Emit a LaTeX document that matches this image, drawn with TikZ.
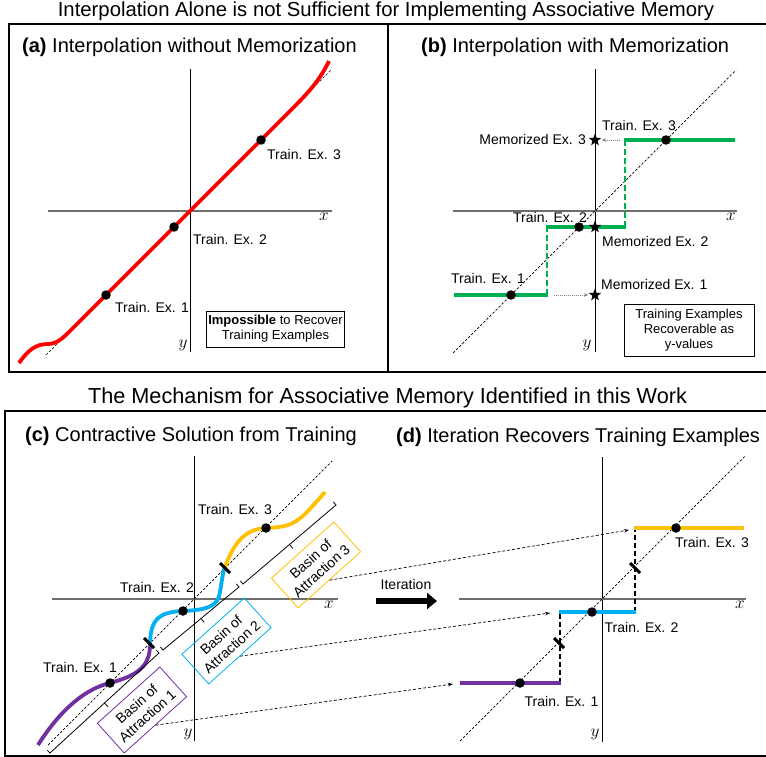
\documentclass[tikz,border=0pt]{standalone}
\usepackage{fontspec}
\setmainfont{Liberation Sans}
\usetikzlibrary{arrows.meta,shapes.geometric}
\definecolor{myred}{RGB}{255,0,0}
\definecolor{mygreen}{RGB}{0,176,80}
\definecolor{mypurple}{RGB}{112,48,160}
\definecolor{myblue}{RGB}{0,176,240}
\definecolor{myyellow}{RGB}{255,192,0}
\definecolor{axgray}{RGB}{110,110,110}
\begin{document}
\begin{tikzpicture}[x=1pt,y=-1pt,
  lab/.style={font=\fontsize{14}{16}\selectfont, inner sep=0pt},
  ttl/.style={font=\fontsize{20}{24}\selectfont, inner sep=0pt, anchor=base west},
  big/.style={inner sep=0pt, anchor=base},
  axlab/.style={font=\fontsize{17}{17}\selectfont, inner sep=0pt},
  blackdot/.style={circle, fill=black, inner sep=0pt, minimum size=9.5pt},
  memstar/.style={star, star points=5, star point ratio=2.4, fill=black, inner sep=0pt, minimum size=13pt},
  yaxisline/.style={line width=1pt},
  xaxisline/.style={line width=1.4pt, draw=axgray},
  diagline/.style={line width=0.7pt, dash pattern=on 2.5pt off 1.8pt},
  outerframe/.style={line width=2.5pt},
  thickcurve/.style={line width=3.8pt},
  stepdash/.style={line width=2.5pt, dash pattern=on 6pt off 3pt},
  tickmark/.style={line width=3pt},
  brk/.style={line width=0.8pt},
  conn/.style={line width=0.7pt, dash pattern=on 3pt off 2pt, -{Stealth[length=5pt,width=3.5pt]}},
  dotarr/.style={line width=0.8pt, draw=gray, dash pattern=on 1pt off 1pt, -{Stealth[length=4pt,width=3.5pt]}},
  infobox/.style={draw, line width=0.8pt, align=center, font=\fontsize{13}{15}\selectfont, inner sep=2pt},
  basin/.style={draw, line width=0.8pt, align=center, font=\fontsize{14}{16}\selectfont, rotate=42, minimum width=84pt, minimum height=40pt, inner sep=2pt},
]
\useasboundingbox (0,0) rectangle (766,757);

% ---------- titles and frames ----------
\node[big, font=\fontsize{20.3}{24}\selectfont] (t1) at (386,17) {Interpolation Alone is not Sufficient for Implementing Associative Memory};
\node[big, font=\fontsize{21.7}{24}\selectfont] (t2) at (387.5,403) {The Mechanism for Associative Memory Identified in this Work};
\draw[outerframe] (9,24) rectangle (780,372);
\draw[line width=1.3pt] (388,24) -- (388,372);
\draw[outerframe] (5,411) rectangle (780,756);

\node[ttl] (ta) at (22,53) {\textbf{(a)} Interpolation without Memorization};
\node[ttl] (tb) at (421,53) {\textbf{(b)} Interpolation with Memorization};
\node[ttl] (tc) at (25,441) {\textbf{(c)} Contractive Solution from Training};
\node[ttl] (td) at (396,442) {\textbf{(d)} Iteration Recovers Training Examples};

% ---------- panel (a) ----------
\draw[yaxisline] (190,69) -- (190,352);
\draw[xaxisline] (48,211) -- (332,211);
\node[axlab] (ax) at (324,217) {$x$};
\node[axlab] (ay) at (183,345) {$y$};
\draw[diagline] (46,355) -- (331,70);
\draw[thickcurve, myred] (19,363) .. controls (28,350) and (36,344) .. (48,344)
  .. controls (56,344) and (62,339) .. (70,331) -- (292,109)
  .. controls (308,93) and (320,80) .. (329,61);
\node[blackdot] (a1) at (106,295) {};
\node[blackdot] (a2) at (174,227) {};
\node[blackdot] (a3) at (261,140) {};
\node[lab] (la1) at (152,307) {Train. Ex. 1};
\node[lab] (la2) at (230,239) {Train. Ex. 2};
\node[lab] (la3) at (304,154) {Train. Ex. 3};
\node[infobox, minimum width=137pt, minimum height=36pt] (boxa) at (275.5,329) {\textbf{Impossible} to Recover\\Training Examples};

% ---------- panel (b) ----------
\draw[yaxisline] (595,69) -- (595,352);
\draw[xaxisline] (453,211) -- (737,211);
\node[axlab] (bx) at (731,217) {$x$};
\node[axlab] (by) at (587,345) {$y$};
\draw[diagline] (453,353) -- (736,70);
\draw[stepdash, mygreen] (547,295) -- (547,227);
\draw[stepdash, mygreen] (625,227) -- (625,140);
\draw[line width=3.3pt, mygreen] (454,295) -- (548,295);
\draw[line width=3.3pt, mygreen] (546,227) -- (626,227);
\draw[line width=3.3pt, mygreen] (624,140) -- (735,140);
\node[blackdot] (b1) at (511,295) {};
\node[blackdot] (b2) at (579,227) {};
\node[blackdot] (b3) at (666,140) {};
\node[memstar] (m1) at (595,295) {};
\node[memstar] (m2) at (595,227) {};
\node[memstar] (m3) at (595,140) {};
\coordinate (g1e) at (554,295);
\coordinate (g3e) at (620,140);
\draw[dotarr, shorten >=3pt] (g1e) -- (m1);
\draw[dotarr, shorten >=3pt] (g3e) -- (m3);
\node[lab] (lb3) at (639,125) {Train. Ex. 3};
\node[lab, anchor=east] (lm3) at (586,139) {Memorized Ex. 3};
\node[lab] (lb2) at (550,217) {Train. Ex. 2};
\node[lab, anchor=west] (lm2) at (602,241) {Memorized Ex. 2};
\node[lab] (lb1) at (488,278) {Train. Ex. 1};
\node[lab, anchor=west] (lm1) at (601,284) {Memorized Ex. 1};
\node[infobox, minimum width=130pt, minimum height=52pt] (boxb) at (689,330) {Training Examples\\Recoverable as\\y-values};

% ---------- panel (c) ----------
\draw[yaxisline] (194,456) -- (194,741);
\draw[xaxisline] (52,599) -- (338,599);
\node[axlab] (cx) at (329,605) {$x$};
\node[axlab] (cy) at (188,734) {$y$};
\draw[diagline] (48,745) -- (332,461);
\draw[thickcurve, mypurple] (38,745) .. controls (55,718) and (80,690) .. (110,683)
  .. controls (135,676) and (150,668) .. (150,645);
\draw[thickcurve, myblue] (150,646) .. controls (150,620) and (158,612) .. (183,611)
  .. controls (208,610) and (218,606) .. (220,592)
  .. controls (222,580) and (223,572) .. (225,566);
\draw[thickcurve, myyellow] (225,567) .. controls (232,548) and (242,529) .. (266,528)
  .. controls (285,527) and (292,526) .. (305,514)
  .. controls (312,507) and (318,500) .. (325,492);
\draw[tickmark] (144,638) -- (154,648);
\draw[tickmark] (220,563) -- (230,573);
\node[blackdot] (c1) at (110,683) {};
\node[blackdot] (c2) at (183,611) {};
\node[blackdot] (c3) at (266,528) {};
\node[lab] (lc1) at (80,667) {Train. Ex. 1};
\node[lab] (lc2) at (157,587) {Train. Ex. 2};
\node[lab] (lc3) at (235,509) {Train. Ex. 3};
% brackets
\draw[brk] (47.3,750.1) -- (50,753) -- (159,653) -- (156.3,650.1);
\draw[brk] (104.5,703) -- (107.9,706.7);
\draw[brk] (160.4,646.9) -- (163,650) -- (239,587) -- (236.4,583.9);
\draw[brk] (201,618.5) -- (204.2,622.4);
\draw[brk] (240.4,581) -- (243,584) -- (336,505) -- (333.4,502);
\draw[brk] (289.5,544.5) -- (292.7,548.3);
\node[basin, draw=mypurple] (basin1) at (142,710) {Basin of\\Attraction 1};
\node[basin, draw=myblue] (basin2) at (226.5,641) {Basin of\\Attraction 2};
\node[basin, draw=myyellow] (basin3) at (316,565) {Basin of\\Attraction 3};

% ---------- iteration arrow ----------
\node[lab] (iter) at (406,584) {Iteration};
\coordinate (itS) at (376,601);
\coordinate (itE) at (437,601);
\draw[line width=6.5pt, -{Triangle[length=10pt,width=16pt]}] (itS) -- (itE);

% ---------- panel (d) ----------
\draw[yaxisline] (602,457) -- (602,742);
\draw[xaxisline] (459,599) -- (746,599);
\node[axlab] (dx) at (740,605) {$x$};
\node[axlab] (dy) at (595,734) {$y$};
\draw[diagline] (460,741) -- (745,456);
\draw[line width=2pt, dash pattern=on 5pt off 3pt] (560,683) -- (560,612);
\draw[line width=2pt, dash pattern=on 5pt off 3pt] (635,612) -- (635,528);
\draw[line width=3.5pt, mypurple] (460,683) -- (561,683);
\draw[line width=3.5pt, myblue] (559,612) -- (636,612);
\draw[line width=3.5pt, myyellow] (634,528) -- (744,528);
\draw[tickmark] (554,638) -- (564,648);
\draw[tickmark] (630,563) -- (640,573);
\node[blackdot] (d1) at (520,683) {};
\node[blackdot] (d2) at (592,612) {};
\node[blackdot] (d3) at (676,528) {};
\node[lab] (ld3) at (712,542) {Train. Ex. 3};
\node[lab] (ld2) at (641.5,627) {Train. Ex. 2};
\node[lab] (ld1) at (561.5,701) {Train. Ex. 1};

% ---------- connectors (c) -> (d) ----------
\coordinate (d1in) at (453,684);
\coordinate (d2in) at (550,613);
\coordinate (d3in) at (629,530);
\draw[conn] (basin1.south) -- (d1in);
\draw[conn] (basin2.south) -- (d2in);
\draw[conn] (basin3.south) -- (d3in);
\end{tikzpicture}
\end{document}
